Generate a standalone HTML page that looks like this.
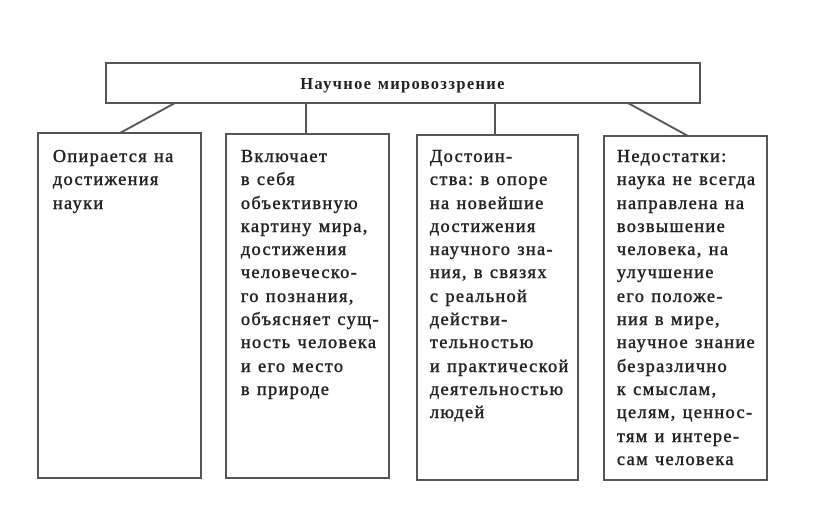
<!DOCTYPE html>
<html><head><meta charset="utf-8"><style>
html,body{margin:0;padding:0;background:#fff;}
body{width:816px;height:528px;position:relative;overflow:hidden;font-family:"Liberation Serif",serif;color:#222;}
.b{position:absolute;border:2px solid #555;box-sizing:border-box;}
.t{position:absolute;font-size:18px;line-height:23.3px;letter-spacing:1.5px;white-space:pre;-webkit-text-stroke:0.5px #222;}
</style></head><body>
<svg width="816" height="528" style="position:absolute;left:0;top:0">
<g stroke="#555" stroke-width="2" fill="none">
<line x1="175" y1="103" x2="120" y2="133"/>
<line x1="306" y1="103" x2="306" y2="134"/>
<line x1="495" y1="103" x2="495" y2="135"/>
<line x1="628" y1="103" x2="688" y2="136"/>
</g></svg>
<div class="b" style="left:105px;top:62px;width:596px;height:42px;"></div>
<div style="position:absolute;left:105px;top:62px;width:596px;height:42px;line-height:44px;text-align:center;font-weight:bold;font-size:16.5px;letter-spacing:1.3px;">Научное мировоззрение</div>
<div class="b" style="left:37px;top:132px;width:165px;height:347px;"></div>
<div class="b" style="left:225px;top:133px;width:165px;height:346px;"></div>
<div class="b" style="left:416px;top:134px;width:163px;height:347px;"></div>
<div class="b" style="left:603px;top:135px;width:165px;height:346px;"></div>
<div class="t" style="left:53px;top:145px;">Опирается на
достижения
науки</div>
<div class="t" style="left:241px;top:145px;">Включает
в себя
объективную
картину мира,
достижения
человеческо-
го познания,
объясняет сущ-
ность человека
и его место
в природе</div>
<div class="t" style="left:430px;top:145px;">Достоин-
ства: в опоре
на новейшие
достижения
научного зна-
ния, в связях
с реальной
действи-
тельностью
и практической
деятельностью
людей</div>
<div class="t" style="left:617px;top:145px;">Недостатки:
наука не всегда
направлена на
возвышение
человека, на
улучшение
его положе-
ния в мире,
научное знание
безразлично
к смыслам,
целям, ценнос-
тям и интере-
сам человека</div>
</body></html>
